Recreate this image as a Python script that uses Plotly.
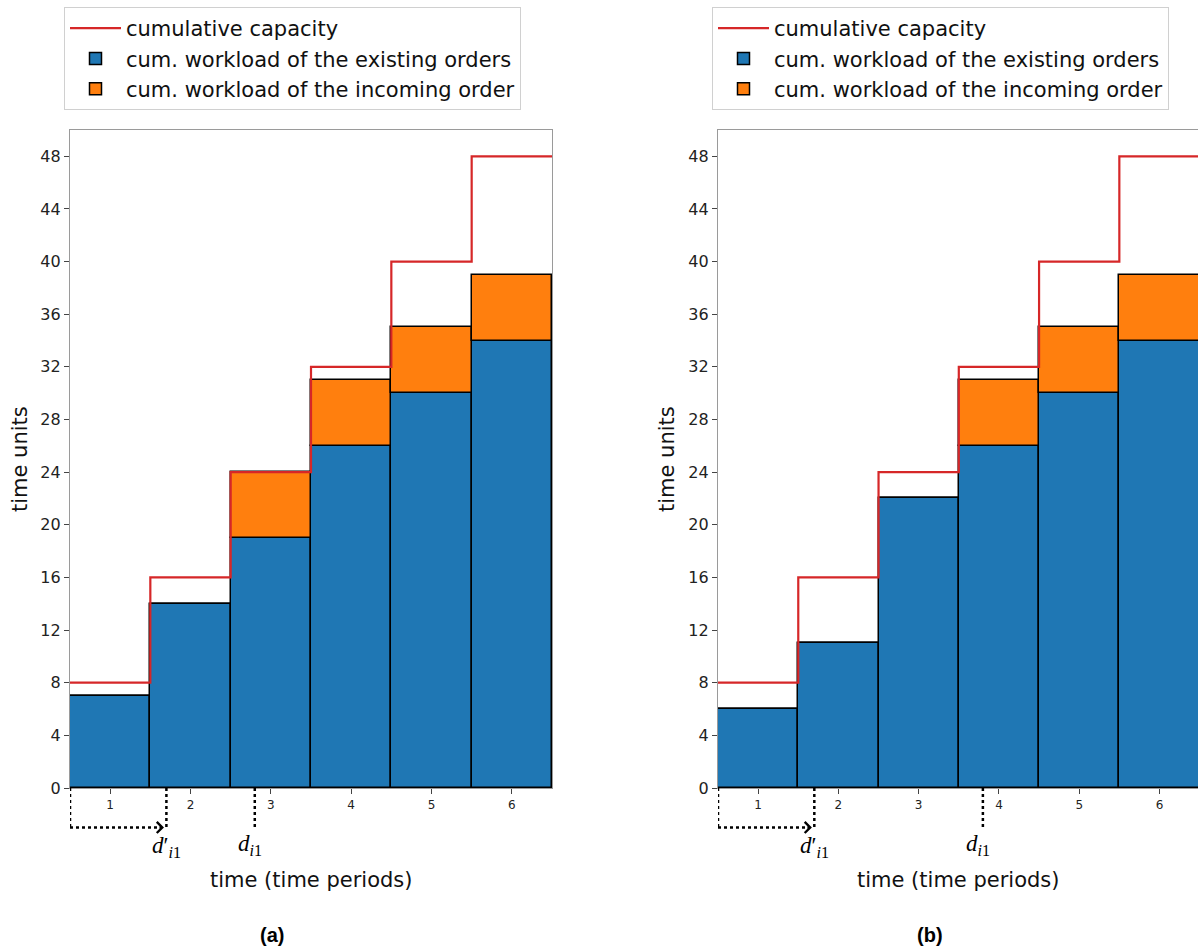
import plotly.graph_objects as go

# ---------------- data ----------------
periods = [1, 2, 3, 4, 5, 6]
capacity = [8, 16, 24, 32, 40, 48]

existing_a = [7, 14, 19, 26, 30, 34]
incoming_a = [0, 0, 5, 5, 5, 5]

existing_b = [6, 11, 22, 26, 30, 34]
incoming_b = [0, 0, 0, 5, 5, 5]

due_a = {"d_prime": 1.7, "d": 2.8}
due_b = {"d_prime": 1.7, "d": 3.8}

y_ticks = list(range(0, 49, 4))
names = ["cumulative capacity",
         "cum. workload of the existing orders",
         "cum. workload of the incoming order"]

# ---------------- layout constants ----------------
W, H = 1198, 948
X1_DOM = [70 / W, 552 / W]
X2_DOM = [718 / W, 1.0]
Y_DOM = [(H - 788) / H, (H - 130) / H]
Y_RANGE = [0, 50]
BLUE, ORANGE, RED = "#1f77b4", "#ff7f0e", "#d62728"
FONT = "DejaVu Sans"


def ypaper(v):
    return Y_DOM[0] + (v - Y_RANGE[0]) / (Y_RANGE[1] - Y_RANGE[0]) * (Y_DOM[1] - Y_DOM[0])


step_x = [p - 0.5 for p in periods] + [periods[-1] + 0.5]
step_y = capacity + [capacity[-1]]

fig = go.Figure()


def add_panel(existing, incoming, xa, ya, legend):
    fig.add_trace(go.Scatter(x=step_x, y=step_y, mode="lines", line_shape="hv",
                             line=dict(color=RED, width=2.2), name=names[0],
                             xaxis=xa, yaxis=ya, legend=legend))
    fig.add_trace(go.Bar(x=periods, y=existing, width=1, name=names[1],
                         marker=dict(color=BLUE, line=dict(color="black", width=1.5)),
                         xaxis=xa, yaxis=ya, legend=legend))
    fig.add_trace(go.Bar(x=periods, y=incoming, base=existing, width=1, name=names[2],
                         marker=dict(color=ORANGE, line=dict(color="black", width=1.5)),
                         xaxis=xa, yaxis=ya, legend=legend))


add_panel(existing_a, incoming_a, "x", "y", "legend")
add_panel(existing_b, incoming_b, "x2", "y2", "legend2")

axis_common = dict(showgrid=False, zeroline=False, showline=True, linecolor="#9a9a9a",
                   linewidth=1.2, ticks="outside", ticklen=5, tickcolor="#444",
                   tickwidth=1, automargin=False)

fig.update_layout(
    xaxis=dict(domain=X1_DOM, range=[0.5, 6.5], tickvals=periods, mirror=True,
               tickfont=dict(size=12, family=FONT, color="#222"), anchor="y", **axis_common),
    yaxis=dict(domain=Y_DOM, range=Y_RANGE, tickvals=y_ticks, mirror=True,
               tickfont=dict(size=16, family=FONT, color="#222"), anchor="x", **axis_common),
    xaxis2=dict(domain=X2_DOM, range=[0.5, 6.48], tickvals=periods, mirror=True,
                tickfont=dict(size=12, family=FONT, color="#222"), anchor="y2", **axis_common),
    yaxis2=dict(domain=Y_DOM, range=Y_RANGE, tickvals=y_ticks, mirror=False,
                tickfont=dict(size=16, family=FONT, color="#222"), anchor="x2", **axis_common),
)

# ---------------- dotted due-date markers ----------------
ARROW_Y = -3.0
ann = []
shapes = []
MATH_FONT = dict(family="Liberation Serif, DejaVu Serif", size=23, color="black")
for xa, due in (("x", due_a), ("x2", due_b)):
    dot = dict(color="black", width=2.5, dash="dot")
    shapes.append(dict(type="line", xref=xa, yref="paper", x0=0.5, x1=0.5,
                       y0=ypaper(0), y1=ypaper(ARROW_Y), line=dot))
    shapes.append(dict(type="line", xref=xa, yref="paper", x0=0.5, x1=due["d_prime"] - 0.07,
                       y0=ypaper(ARROW_Y), y1=ypaper(ARROW_Y), line=dot))
    shapes.append(dict(type="line", xref=xa, yref="paper", x0=due["d_prime"], x1=due["d_prime"],
                       y0=ypaper(0), y1=ypaper(ARROW_Y), line=dot))
    shapes.append(dict(type="line", xref=xa, yref="paper", x0=due["d"], x1=due["d"],
                       y0=ypaper(0), y1=ypaper(ARROW_Y), line=dot))
    ann.append(dict(x=due["d_prime"] - 0.03, y=ypaper(ARROW_Y), xref=xa, yref="paper",
                    ax=-6, ay=0, axref="pixel", ayref="pixel", text="", showarrow=True,
                    arrowhead=4, arrowsize=0.85, arrowwidth=2.5, arrowcolor="black"))
    ann.append(dict(x=due["d_prime"], y=ypaper(-4.5), xref=xa, yref="paper",
                    xanchor="center", yanchor="middle",
                    text="<i>d</i>′<sub><i>i</i>1</sub>", showarrow=False, font=MATH_FONT))
    ann.append(dict(x=due["d"] - 0.06, y=ypaper(-4.3), xref=xa, yref="paper",
                    xanchor="center", yanchor="middle",
                    text="<i>d</i><sub><i>i</i>1</sub>", showarrow=False, font=MATH_FONT))

# axis titles and panel labels
for xc, yl_x, lab, lab_x in ((311 / W, 20 / W, "(a)", 272 / W), (958 / W, 667 / W, "(b)", 930 / W)):
    ann.append(dict(x=xc, y=1 - 880 / H, xref="paper", yref="paper", text="time (time periods)",
                    xanchor="center", yanchor="middle",
                    showarrow=False, font=dict(family=FONT, size=21, color="#111")))
    ann.append(dict(x=yl_x, y=1 - 459 / H, xref="paper", yref="paper", text="time units",
                    xanchor="center", yanchor="middle",
                    textangle=-90, showarrow=False, font=dict(family=FONT, size=21, color="#111")))
    ann.append(dict(x=lab_x, y=1 - 935 / H, xref="paper", yref="paper", text="<b>" + lab + "</b>",
                    xanchor="center", yanchor="middle",
                    showarrow=False, font=dict(family="Liberation Sans", size=20, color="black")))

legend_common = dict(font=dict(family=FONT, size=21, color="#111"), bordercolor="#d0d0d0",
                     borderwidth=1, bgcolor="white", traceorder="normal", itemwidth=51,
                     entrywidth=420, entrywidthmode="pixels",
                     xanchor="left", yanchor="top", tracegroupgap=0)

fig.update_layout(
    width=W, height=H, margin=dict(l=0, r=0, t=0, b=0, autoexpand=False),
    paper_bgcolor="white", plot_bgcolor="white",
    barmode="overlay", bargap=0,
    shapes=shapes, annotations=ann,
    legend=dict(x=64 / W, y=1 - 7 / H, **legend_common),
    legend2=dict(x=712 / W, y=1 - 7 / H, **legend_common),
    showlegend=True,
)

fig.write_html("out.html", config={"displayModeBar": False},
               post_script="document.body.style.margin='0px';document.body.style.overflow='hidden';")
